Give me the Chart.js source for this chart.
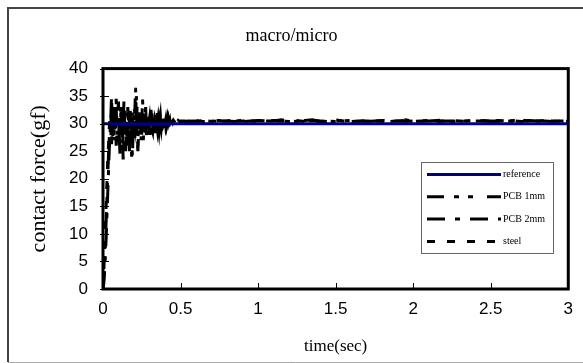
<!DOCTYPE html>
<html>
<head>
<meta charset="utf-8">
<script src="https://cdn.jsdelivr.net/npm/chart.js@4.4.0/dist/chart.umd.min.js"></script>
<style>
    html, body { margin: 0; padding: 0; background: #fff; }
    #wrap { width: 583px; height: 363px; position: relative; }
</style>
</head>
<body>
<div id="wrap"><canvas id="forceChart" width="583" height="363"></canvas></div>
<script>
// ============================================
// macro/micro contact force response
// ============================================

const chartTitle = "macro/micro";
const xTitle = "time(sec)";
const yTitle = "contact force(gf)";
const seriesNames = ["reference", "PCB 1mm", "PCB 2mm", "steel"];

const xTicks = [0, 0.5, 1, 1.5, 2, 2.5, 3];
const yTicks = [0, 5, 10, 15, 20, 25, 30, 35, 40];

// reference set point
const refTime = [0, 3];
const reference = [30, 30];

// sample times (sec) of the measured responses
const time = [
    0, 0.005, 0.01, 0.015, 0.02, 0.025, 0.03, 0.035, 0.04, 0.045,
    0.05, 0.055, 0.06, 0.065, 0.07, 0.075, 0.08, 0.085, 0.09, 0.095,
    0.1, 0.105, 0.11, 0.115, 0.12, 0.125, 0.13, 0.135, 0.14, 0.145,
    0.15, 0.155, 0.16, 0.165, 0.17, 0.175, 0.18, 0.185, 0.19, 0.195,
    0.2, 0.205, 0.21, 0.215, 0.22, 0.225, 0.23, 0.235, 0.24, 0.245,
    0.25, 0.255, 0.26, 0.265, 0.27, 0.275, 0.28, 0.285, 0.29, 0.295,
    0.3, 0.305, 0.31, 0.315, 0.32, 0.325, 0.33, 0.335, 0.34, 0.345,
    0.35, 0.355, 0.36, 0.365, 0.37, 0.375, 0.38, 0.385, 0.39, 0.395,
    0.4, 0.405, 0.41, 0.415, 0.42, 0.425, 0.43, 0.435, 0.44, 0.445,
    0.45, 0.455, 0.46, 0.465, 0.47, 0.475, 0.48, 0.485, 0.49, 0.495,
    0.5,
    0.55, 0.6, 0.65, 0.7, 0.75, 0.8, 0.85, 0.9, 0.95, 1.0,
    1.05, 1.1, 1.15, 1.2, 1.25, 1.3, 1.35, 1.4, 1.45, 1.5,
    1.55, 1.6, 1.65, 1.7, 1.75, 1.8, 1.85, 1.9, 1.95, 2.0,
    2.05, 2.1, 2.15, 2.2, 2.25, 2.3, 2.35, 2.4, 2.45, 2.5,
    2.55, 2.6, 2.65, 2.7, 2.75, 2.8, 2.85, 2.9, 2.95, 3.0
];

const pcb1mm = [
    0, 2, 5, 8, 12, 16, 20, 24, 27, 30,
    32, 28, 31, 34, 29, 27, 31, 33, 28, 30,
    32, 26, 29, 33, 31, 27, 30, 34, 29, 25,
    28, 32, 30, 26, 31, 33, 28, 24, 29, 32,
    30, 27, 33, 35, 29, 26, 31, 32, 28, 30,
    33, 29, 27, 31, 32, 29, 28, 31, 30, 32,
    29, 28, 31, 32, 30, 28.5, 30, 31.5, 29, 30.5,
    32, 29.5, 28.5, 30.5, 31.5, 29.5, 30, 31, 29, 30.5,
    31, 29.5, 30.2, 31, 29.8, 30.4, 30.8, 29.7, 30.3, 30.6,
    30.2, 30.6, 30.4, 30.1, 30.5, 30.4, 30.3, 30.6, 30.4, 30.5,
    30.4,
    30.5, 30.4, 30.6, 30.5, 30.4, 30.5, 30.7, 30.4, 30.5, 30.6,
    30.4, 30.6, 30.5, 30.4, 30.5, 30.6, 30.7, 30.4, 30.5, 30.4,
    30.5, 30.6, 30.5, 30.4, 30.5, 30.6, 30.4, 30.5, 30.7, 30.5,
    30.4, 30.5, 30.6, 30.7, 30.4, 30.5, 30.5, 30.4, 30.6, 30.5,
    30.4, 30.5, 30.6, 30.7, 30.4, 30.5, 30.5, 30.4, 30.5, 30.5
];

const pcb2mm = [
    0, 1, 3, 6, 9, 13, 17, 21, 25, 28,
    31, 35, 30, 27, 29, 33, 31, 26, 28, 32,
    34, 28, 24, 27, 31, 29, 23.5, 27, 32, 30,
    26, 29, 33, 30, 25, 28, 31, 27, 24, 30,
    33, 32, 36.5, 31, 27, 25, 29, 32, 30, 27,
    30, 34.5, 31, 28, 30, 33, 29, 27.5, 30, 31,
    28, 30.5, 32.5, 29, 28.5, 31, 30, 28, 31.5, 30,
    29, 31, 30, 28.5, 31, 30.5, 29.5, 30, 31.5, 29.5,
    30, 30.8, 29.6, 30.4, 31, 30, 29.8, 30.5, 30.2, 30.3,
    30.5, 30.3, 30.6, 30.4, 30.2, 30.5, 30.4, 30.3, 30.5, 30.6,
    30.4,
    30.4, 30.5, 30.6, 30.4, 30.5, 30.5, 30.4, 30.6, 30.5, 30.4,
    30.5, 30.5, 30.7, 30.5, 30.4, 30.5, 30.6, 30.5, 30.4, 30.5,
    30.6, 30.4, 30.5, 30.5, 30.4, 30.6, 30.5, 30.5, 30.4, 30.5,
    30.5, 30.6, 30.4, 30.5, 30.5, 30.4, 30.5, 30.7, 30.5, 30.4,
    30.5, 30.5, 30.4, 30.5, 30.6, 30.5, 30.4, 30.5, 30.5, 30.4
];

const steel = [
    0, 3, 7, 11, 15, 19, 23, 26, 29, 31,
    29, 26, 30, 33, 28, 31, 29, 34.5, 30, 27,
    29, 31, 28, 32, 30, 26, 29, 31, 33, 28,
    30, 27, 29, 32, 31, 28, 26, 30, 31, 29,
    28, 31, 29, 30, 33, 30, 28, 29, 31, 30,
    28, 30, 32, 29, 31, 30, 28.5, 31, 29.5, 30,
    31, 29, 30, 32, 29.5, 30, 29, 31, 30.5, 29,
    30, 31, 29.5, 30.5, 30, 29, 30.5, 31, 29.8, 30.2,
    30.6, 29.9, 30.2, 30.5, 29.8, 30.3, 30, 30.4, 30.1, 30.4,
    30.5, 30.3, 30.6, 30.4, 30.5, 30.5, 30.4, 30.6, 30.5, 30.4,
    30.5,
    30.5, 30.5, 30.4, 30.5, 30.6, 30.4, 30.5, 30.5, 30.4, 30.6,
    30.5, 30.4, 30.5, 30.5, 30.6, 30.4, 30.5, 30.4, 30.5, 30.7,
    30.5, 30.5, 30.4, 30.6, 30.5, 30.4, 30.5, 30.5, 30.6, 30.4,
    30.5, 30.4, 30.5, 30.5, 30.6, 30.5, 30.4, 30.5, 30.5, 30.4,
    30.6, 30.5, 30.5, 30.4, 30.5, 30.5, 30.6, 30.4, 30.5, 30.5
];

function toPoints(xs, values) {
    return xs.map((t, i) => ({ x: t, y: values[i] }));
}

function makeSeries(label, xs, values, color, dash, width) {
    return {
        label: label,
        data: toPoints(xs, values),
        borderColor: color,
        backgroundColor: color,
        borderWidth: width,
        borderDash: dash,
        pointRadius: 0,
        tension: 0,
        fill: false
    };
}

// frame, inward ticks, plot border, boxed legend
const excelLook = {
    id: "excelLook",
    beforeDraw(chart) {
        const ctx = chart.ctx;
        ctx.save();
        ctx.fillStyle = "#fff";
        ctx.fillRect(0, 0, chart.width, chart.height);
        ctx.lineWidth = 2;
        ctx.strokeStyle = "#444";
        ctx.beginPath();
        ctx.moveTo(8, 362);
        ctx.lineTo(8, 8);
        ctx.lineTo(chart.width, 8);
        ctx.stroke();
        ctx.lineWidth = 1;
        ctx.strokeStyle = "#aaa";
        ctx.beginPath();
        ctx.moveTo(8, 362.5);
        ctx.lineTo(chart.width, 362.5);
        ctx.stroke();
        ctx.restore();
    },
    afterDatasetsDraw(chart) {
        const ctx = chart.ctx;
        const a = chart.chartArea;
        const xs = chart.scales.x;
        const ys = chart.scales.y;
        ctx.save();
        ctx.strokeStyle = "#000";
        ctx.lineWidth = 1;
        ctx.beginPath();
        xTicks.forEach((v) => {
            const px = Math.round(xs.getPixelForValue(v)) + 0.5;
            ctx.moveTo(px, a.bottom);
            ctx.lineTo(px, a.bottom - 6);
        });
        yTicks.forEach((v) => {
            const py = Math.round(ys.getPixelForValue(v)) + 0.5;
            ctx.moveTo(a.left - 3, py);
            ctx.lineTo(a.left + 6, py);
        });
        ctx.stroke();
        ctx.lineWidth = 3;
        ctx.strokeRect(a.left, a.top, a.right - a.left, a.bottom - a.top);

        // legend box
        const bx = 421, by = 162, bw = 132, bh = 91;
        ctx.fillStyle = "#fff";
        ctx.fillRect(bx, by, bw, bh);
        ctx.lineWidth = 1;
        ctx.strokeStyle = "#666";
        ctx.strokeRect(bx + 0.5, by + 0.5, bw, bh);
        ctx.font = "10px 'Liberation Serif', 'Times New Roman', serif";
        ctx.textBaseline = "middle";
        chart.data.datasets.forEach((ds, i) => {
            const ly = 174.5 + i * 22.3;
            ctx.strokeStyle = ds.borderColor;
            ctx.lineWidth = 3;
            ctx.setLineDash(ds.borderDash);
            ctx.beginPath();
            ctx.moveTo(427, ly);
            ctx.lineTo(501, ly);
            ctx.stroke();
            ctx.setLineDash([]);
            ctx.fillStyle = "#000";
            ctx.fillText(ds.label, 503, ly);
        });
        ctx.restore();
    }
};

const serif = "'Liberation Serif', 'Times New Roman', serif";
const sans = "'Liberation Sans', Arial, sans-serif";

new Chart(document.getElementById("forceChart"), {
    type: "line",
    data: {
        datasets: [
            makeSeries(seriesNames[0], refTime, reference, "#000080", [], 3),
            makeSeries(seriesNames[1], time, pcb1mm, "#000", [17, 10, 5, 9, 5, 14], 3),
            makeSeries(seriesNames[2], time, pcb2mm, "#000", [18, 10, 5, 10], 3),
            makeSeries(seriesNames[3], time, steel, "#000", [8, 12], 3)
        ]
    },
    options: {
        responsive: false,
        animation: false,
        layout: { padding: { left: 14, right: 14, top: 0, bottom: 2 } },
        plugins: {
            legend: { display: false },
            tooltip: { enabled: false },
            title: {
                display: true,
                text: chartTitle,
                color: "#000",
                font: { family: serif, size: 18, weight: "normal" },
                padding: { top: 25, bottom: 22 }
            }
        },
        scales: {
            x: {
                type: "linear",
                min: 0,
                max: 3,
                afterBuildTicks: (scale) => { scale.ticks = xTicks.map((v) => ({ value: v })); },
                afterFit: (scale) => { scale.height = 72; },
                grid: { display: false, drawTicks: false },
                border: { display: false },
                ticks: {
                    color: "#000",
                    padding: 10,
                    maxRotation: 0,
                    font: { family: sans, size: 17 },
                    callback: (v) => String(v)
                },
                title: {
                    display: true,
                    text: xTitle,
                    color: "#000",
                    padding: { top: 0, bottom: 4 },
                    font: { family: serif, size: 17 }
                }
            },
            y: {
                min: 0,
                max: 40,
                afterBuildTicks: (scale) => { scale.ticks = yTicks.map((v) => ({ value: v })); },
                afterFit: (scale) => { scale.width = 89; },
                grid: { display: false, drawTicks: false },
                border: { display: false },
                ticks: {
                    color: "#000",
                    padding: 15,
                    font: { family: sans, size: 17 },
                    callback: (v) => String(v)
                },
                title: {
                    display: true,
                    text: yTitle,
                    color: "#000",
                    padding: { top: 12, bottom: 0 },
                    font: { family: serif, size: 22 }
                }
            }
        }
    },
    plugins: [excelLook]
});
</script>
</body>
</html>
